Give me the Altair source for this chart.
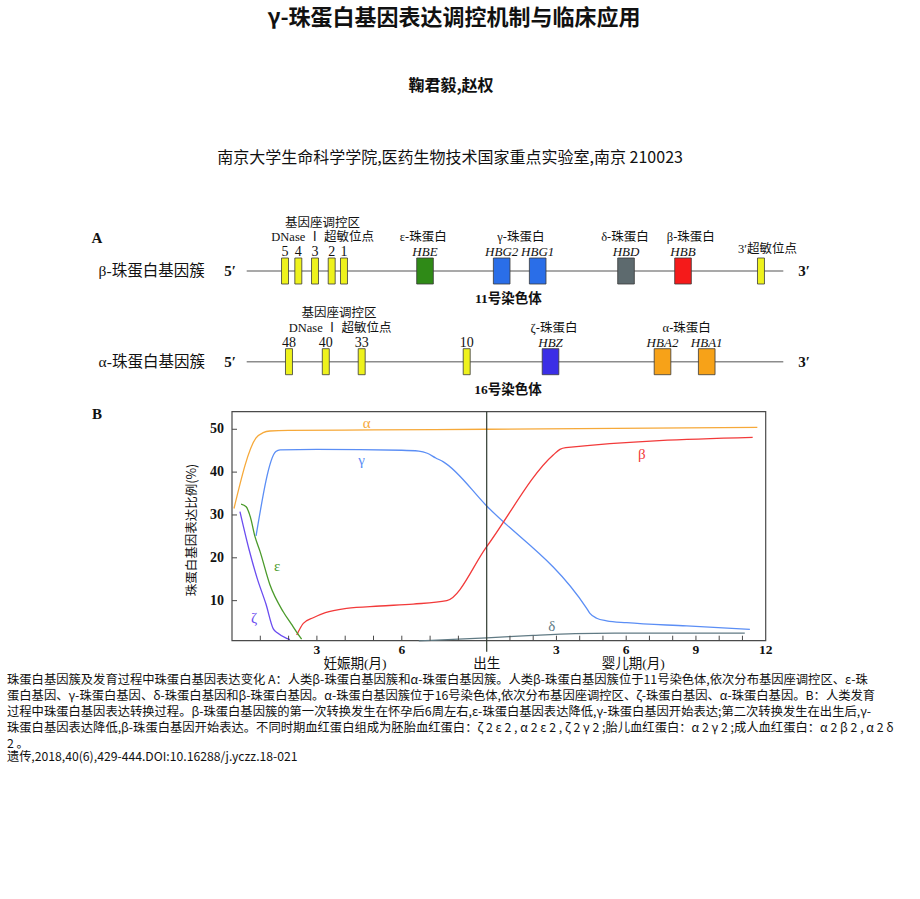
import altair as alt
import pandas as pd

# ---------------- text content ----------------
TITLE = "γ-珠蛋白基因表达调控机制与临床应用"
AUTHORS = "鞠君毅,赵权"
AFFILIATION = "南京大学生命科学学院,医药生物技术国家重点实验室,南京 210023"
CAPTION = [
    " 珠蛋白基因簇及发育过程中珠蛋白基因表达变化  A：人类β-珠蛋白基因簇和α-珠蛋白基因簇。人类β-珠蛋白基因簇位于11号染色体,依次分布基因座调控区、ε-珠",
    "蛋白基因、γ-珠蛋白基因、δ-珠蛋白基因和β-珠蛋白基因。α-珠蛋白基因簇位于16号染色体,依次分布基因座调控区、ζ-珠蛋白基因、α-珠蛋白基因。B：人类发育",
    "过程中珠蛋白基因表达转换过程。β-珠蛋白基因簇的第一次转换发生在怀孕后6周左右,ε-珠蛋白基因表达降低,γ-珠蛋白基因开始表达;第二次转换发生在出生后,γ-",
    "珠蛋白基因表达降低,β-珠蛋白基因开始表达。不同时期血红蛋白组成为胚胎血红蛋白：ζ 2 ε 2 , α 2 ε 2 , ζ 2 γ 2 ;胎儿血红蛋白：α 2 γ 2 ;成人血红蛋白：α 2 β 2 , α 2 δ",
    "2 。",
]
caption_line_no = [0, 1, 2, 3, 4]
CITATION = "遗传,2018,40(6),429-444.DOI:10.16288/j.yczz.18-021"

# ---------------- panel A: gene clusters (diagram units 0..100) ----------------
cluster_row = [1, 2]
cluster_name = ["β-珠蛋白基因簇", "α-珠蛋白基因簇"]
chromosome_name = ["11号染色体", "16号染色体"]
cluster_start = [0, 0]
cluster_end = [100, 100]
cluster_label_pos = [-27.6, -27.6]
five_prime_pos = [-3.1, -3.1]
three_prime_pos = [103.9, 103.9]
chromosome_pos = [48.75, 48.7]

el_row = [1, 1, 1, 1, 1, 1, 1, 1, 1, 1, 1, 2, 2, 2, 2, 2, 2, 2]
el_name = ["5", "4", "3", "2", "1", "HBE", "HBG2", "HBG1", "HBD", "HBB", "",
           "48", "40", "33", "10", "HBZ", "HBA2", "HBA1"]
el_kind = ["HS", "HS", "HS", "HS", "HS", "ε", "γ", "γ", "δ", "β", "HS",
           "HS", "HS", "HS", "HS", "ζ", "α", "α"]
el_pos = [7.14, 9.62, 12.73, 15.84, 18.13, 33.23, 47.52, 54.23, 70.69, 81.31, 95.84,
          7.88, 14.74, 21.43, 41.0, 56.62, 77.49, 85.73]
el_len = [1.3, 1.3, 1.3, 1.3, 1.3, 3.1, 3.1, 3.1, 3.1, 3.1, 1.3,
          1.3, 1.3, 1.3, 1.3, 3.1, 3.1, 3.1]

kind_domain = ["HS", "ε", "γ", "δ", "β", "ζ", "α"]
kind_colors = ["#eef21c", "#2f8a17", "#2a6ee8", "#5d6a6e", "#f51a1a", "#3b2ee6", "#f7a218"]

lcr_row = [1, 2]
lcr_text = ["基因座调控区", "基因座调控区"]
lcr_pos = [14.13, 17.2]

mid_row = [1, 1, 1, 1, 1, 2, 2, 2]
mid_text = ["DNase Ⅰ 超敏位点", "ε-珠蛋白", "γ-珠蛋白", "δ-珠蛋白", "β-珠蛋白",
            "DNase Ⅰ 超敏位点", "ζ-珠蛋白", "α-珠蛋白"]
mid_pos = [14.16, 32.9, 51.1, 70.5, 82.76, 17.4, 57.27, 82.0]

hs3_row = [1]
hs3_text = ["3′超敏位点"]
hs3_pos = [97.05]

# ---------------- panel B: expression curves ----------------
alpha_m = [0.07, 0.85, 1.1, 1.34, 2.0, 5.0, 9.0, 20.64]
alpha_v = [31.5, 48.0, 49.2, 49.6, 49.75, 49.85, 50.0, 50.45]
gamma_m = [0.85, 1.55, 1.7, 3.0, 6.0, 6.6, 6.9, 7.2, 7.47, 9.0, 13.3, 13.44, 13.73, 14.16, 15.02, 17.6, 20.32]
gamma_v = [25.1, 44.8, 45.2, 45.3, 45.1, 44.9, 44.4, 43.3, 42.4, 32.1, 8.2, 7.05, 5.9, 5.3, 4.85, 4.1, 3.3]
beta_m = [2.29, 2.52, 2.87, 3.3, 4.05, 5.23, 6.4, 7.59, 9.0, 11.86, 12.15, 12.4, 20.44]
beta_v = [2.0, 4.7, 6.0, 7.2, 8.2, 8.75, 9.2, 10.0, 22.6, 44.0, 45.3, 45.7, 48.1]
eps_m = [0.32, 0.5, 0.65, 0.81, 0.99, 1.34, 1.81, 2.1, 2.29, 2.46]
eps_v = [32.5, 31.9, 29.5, 25.0, 21.5, 13.7, 7.4, 4.5, 2.6, 1.0]
zeta_m = [0.28, 0.6, 0.89, 1.2, 1.46, 1.6, 1.93, 2.05]
zeta_v = [30.8, 22.0, 15.2, 9.2, 3.4, 2.5, 1.2, 0.9]
delta_m = [6.6, 8.0, 9.0, 11.0, 12.8, 14.5, 20.1]
delta_v = [0.6, 1.0, 1.3, 1.9, 2.3, 2.4, 2.4]

gene_domain = ["α", "γ", "β", "ε", "ζ", "δ"]
gene_colors = ["#f6a93a", "#5b8ef5", "#f23a3a", "#4a9a2a", "#6a4cf0", "#607a84"]

label_gene = ["α", "γ", "ε", "ζ", "β", "δ"]
label_m = [4.76, 4.58, 1.6, 0.78, 15.67, 11.8]
label_v = [51.5, 42.8, 18.1, 5.9, 44.2, 4.1]

y_ticks = [10, 20, 30, 40, 50]
x_minor_ticks = [1, 2, 3, 4, 5, 6, 7, 8, 10, 11, 12, 13, 14, 15, 16, 17, 18, 19, 20]
x_label_vals = [3, 6, 12, 15, 18, 21]
x_label_text = ["3", "6", "3", "6", "9", "12"]
x_titles = ["妊娠期(月)", "出生", "婴儿期(月)"]
x_title_m = [4.35, 9.0, 15.3]
Y_TITLE = "珠蛋白基因表达比例(%)"

# ---------------- fonts ----------------
SANS = "Noto Sans CJK SC"
SERIF = "Liberation Serif, Noto Sans CJK SC"

# ---------------- scales ----------------
xA = alt.Scale(domain=[0, 100], range=[246.7, 783.3], nice=False, zero=False)
yA = alt.Scale(domain=[1, 2], range=[271, 361.7], nice=False, zero=False)
xB = alt.Scale(domain=[0, 9, 21], range=[232, 486.7, 765.7], nice=False, zero=False)
yB = alt.Scale(domain=[0.65, 54.1], range=[640.7, 411.7], nice=False, zero=False)
yCap = alt.Scale(domain=[0, 4], range=[679.5, 743.5], nice=False, zero=False)

# ---------------- header ----------------
def text_block(txt, x, y, size, weight="normal", align="center", font=SANS):
    return alt.Chart(pd.DataFrame({"t": [txt]})).mark_text(
        align=align, baseline="middle", font=font, fontSize=size, fontWeight=weight, color="#111"
    ).encode(x=alt.value(x), y=alt.value(y), text="t:N")

title = text_block(TITLE, 454, 18, 22, "bold")
authors = text_block(AUTHORS, 451, 86, 16, "bold")
affil = text_block(AFFILIATION, 450, 158, 16)
citation = text_block(CITATION, 7, 757, 12.2, align="left")
letter_a = text_block("A", 97, 238, 15, "bold", font=SERIF)
letter_b = text_block("B", 97, 414, 15, "bold", font=SERIF)

caption = alt.Chart(pd.DataFrame({"line": caption_line_no, "t": CAPTION})).mark_text(
    align="left", baseline="middle", font=SANS, fontSize=12.3, color="#111"
).encode(x=alt.value(7), y=alt.Y("line:Q", scale=yCap, axis=None), text="t:N")

# ---------------- panel A ----------------
clusters = pd.DataFrame({"row": cluster_row, "name": cluster_name, "chrom": chromosome_name,
                         "start": cluster_start, "end": cluster_end,
                         "lab": cluster_label_pos, "p5": five_prime_pos, "p3": three_prime_pos,
                         "cpos": chromosome_pos})
elements = pd.DataFrame({"row": el_row, "name": el_name, "kind": el_kind, "pos": el_pos, "len": el_len})

XA = lambda f: alt.X(f, scale=xA, axis=None)
YA = lambda f: alt.Y(f, scale=yA, axis=None)

a_line = alt.Chart(clusters).mark_rule(color="#8c8c8c", strokeWidth=1.6).encode(
    x=XA("start:Q"), x2="end:Q", y=YA("row:Q"))
a_boxes = alt.Chart(elements).transform_calculate(
    left="datum.pos - datum.len / 2", right="datum.pos + datum.len / 2"
).mark_rect(yOffset=-13, y2Offset=13, stroke="#3a3a3a", strokeWidth=0.8).encode(
    x=XA("left:Q"), x2="right:Q", y=YA("row:Q"), y2="row:Q",
    color=alt.Color("kind:N", scale=alt.Scale(domain=kind_domain, range=kind_colors), legend=None))
a_rowlab = alt.Chart(clusters).mark_text(align="left", baseline="middle", font=SERIF, fontSize=15.5, color="#111").encode(
    x=XA("lab:Q"), y=YA("row:Q"), text="name:N")
a_p5 = alt.Chart(clusters).mark_text(text="5′", baseline="middle", font=SERIF, fontSize=15, fontWeight="bold", color="#111").encode(
    x=XA("p5:Q"), y=YA("row:Q"))
a_p3 = alt.Chart(clusters).mark_text(text="3′", baseline="middle", font=SERIF, fontSize=15, fontWeight="bold", color="#111").encode(
    x=XA("p3:Q"), y=YA("row:Q"))
a_chrom = alt.Chart(clusters).mark_text(baseline="middle", font=SERIF, fontSize=13.5, fontWeight="bold", color="#111", yOffset=28).encode(
    x=XA("cpos:Q"), y=YA("row:Q"), text="chrom:N")
a_nums = alt.Chart(elements).transform_filter("datum.kind == 'HS' && datum.name != ''").mark_text(
    baseline="middle", font=SERIF, fontSize=14, color="#111", yOffset=-19).encode(
    x=XA("pos:Q"), y=YA("row:Q"), text="name:N")
a_genes = alt.Chart(elements).transform_filter("datum.kind != 'HS'").mark_text(
    baseline="middle", font=SERIF, fontSize=13, fontStyle="italic", color="#111", yOffset=-19).encode(
    x=XA("pos:Q"), y=YA("row:Q"), text="name:N")
a_lcr = alt.Chart(pd.DataFrame({"row": lcr_row, "t": lcr_text, "pos": lcr_pos})).mark_text(
    baseline="middle", font=SERIF, fontSize=12.5, color="#111", yOffset=-48.5).encode(
    x=XA("pos:Q"), y=YA("row:Q"), text="t:N")
a_mid = alt.Chart(pd.DataFrame({"row": mid_row, "t": mid_text, "pos": mid_pos})).mark_text(
    baseline="middle", font=SERIF, fontSize=12.5, color="#111", yOffset=-34).encode(
    x=XA("pos:Q"), y=YA("row:Q"), text="t:N")
a_hs3 = alt.Chart(pd.DataFrame({"row": hs3_row, "t": hs3_text, "pos": hs3_pos})).mark_text(
    baseline="middle", font=SERIF, fontSize=12.5, color="#111", yOffset=-22).encode(
    x=XA("pos:Q"), y=YA("row:Q"), text="t:N")

panel_a = alt.layer(a_line, a_boxes, a_rowlab, a_p5, a_p3, a_chrom, a_nums, a_genes, a_lcr, a_mid, a_hs3)

# ---------------- panel B ----------------
curves = pd.concat([
    pd.DataFrame({"gene": "α", "m": alpha_m, "v": alpha_v}),
    pd.DataFrame({"gene": "γ", "m": gamma_m, "v": gamma_v}),
    pd.DataFrame({"gene": "β", "m": beta_m, "v": beta_v}),
    pd.DataFrame({"gene": "ε", "m": eps_m, "v": eps_v}),
    pd.DataFrame({"gene": "ζ", "m": zeta_m, "v": zeta_v}),
    pd.DataFrame({"gene": "δ", "m": delta_m, "v": delta_v}),
], ignore_index=True)
gene_scale = alt.Scale(domain=gene_domain, range=gene_colors)
XB = lambda f: alt.X(f, scale=xB, axis=None)
YB = lambda f: alt.Y(f, scale=yB, axis=None)
X0 = alt.XDatum(0, scale=xB, axis=None)
Y0 = alt.YDatum(0.65, scale=yB, axis=None)
YTOP = alt.YDatum(54.1, scale=yB, axis=None)

one = pd.DataFrame({"k": [0]})
b_frame = alt.Chart(one).mark_rect(fill=None, stroke="#4a4a4a", strokeWidth=1.2).encode(
    x=X0, x2=alt.X2Datum(21), y=Y0, y2=alt.Y2Datum(54.1))
b_birth = alt.Chart(one).mark_rule(color="#2f3a2f", strokeWidth=1.2, y2Offset=11).encode(
    x=alt.XDatum(9, scale=xB, axis=None), y=YTOP, y2=alt.Y2Datum(0.65))
b_lines = alt.Chart(curves).mark_line(interpolate="monotone", strokeWidth=1.3).encode(
    x=XB("m:Q"), y=YB("v:Q"),
    color=alt.Color("gene:N", scale=gene_scale, legend=None), detail="gene:N")
b_labels = alt.Chart(pd.DataFrame({"gene": label_gene, "m": label_m, "v": label_v})).mark_text(
    font=SERIF, fontSize=15, baseline="middle").encode(
    x=XB("m:Q"), y=YB("v:Q"), text="gene:N",
    color=alt.Color("gene:N", scale=gene_scale, legend=None))
b_yticks = alt.Chart(pd.DataFrame({"v": y_ticks})).mark_rule(color="#4a4a4a", x2Offset=5).encode(
    x=X0, x2=alt.X2Datum(0), y=YB("v:Q"))
b_xticks = alt.Chart(pd.DataFrame({"m": x_minor_ticks})).mark_rule(color="#4a4a4a", y2Offset=-5).encode(
    x=XB("m:Q"), y=Y0, y2=alt.Y2Datum(0.65))
b_ylabels = alt.Chart(pd.DataFrame({"v": y_ticks})).mark_text(
    align="right", baseline="middle", dx=-8, font=SERIF, fontSize=14, fontWeight="bold", color="#111").encode(
    x=X0, y=YB("v:Q"), text="v:N")
b_xlabels = alt.Chart(pd.DataFrame({"m": x_label_vals, "t": x_label_text})).mark_text(
    align="center", baseline="middle", dy=9, font=SERIF, fontSize=13.5, fontWeight="bold", color="#111").encode(
    x=XB("m:Q"), y=Y0, text="t:N")
b_xtitles = alt.Chart(pd.DataFrame({"m": x_title_m, "t": x_titles})).mark_text(
    align="center", baseline="middle", dy=23, font=SERIF, fontSize=13.5, color="#111").encode(
    x=XB("m:Q"), y=Y0, text="t:N")
b_ytitle = alt.Chart(pd.DataFrame({"t": [Y_TITLE]})).mark_text(
    align="center", baseline="middle", angle=270, xOffset=-40, font=SANS, fontSize=12.5, color="#111").encode(
    x=X0, y=alt.YDatum(26.5, scale=yB, axis=None), text="t:N")

panel_b = alt.layer(b_frame, b_lines, b_birth, b_labels, b_yticks, b_xticks,
                    b_ylabels, b_xlabels, b_xtitles, b_ytitle)

chart = alt.layer(
    title, authors, affil, letter_a, letter_b, panel_a, panel_b, caption, citation
).resolve_scale(
    x="independent", y="independent", color="independent"
).properties(
    width=920, height=899, padding=0, background="white",
    autosize=alt.AutoSizeParams(type="none"),
).configure_view(strokeWidth=0)

chart.save("out.html", embed_options={"renderer": "svg", "actions": False})
